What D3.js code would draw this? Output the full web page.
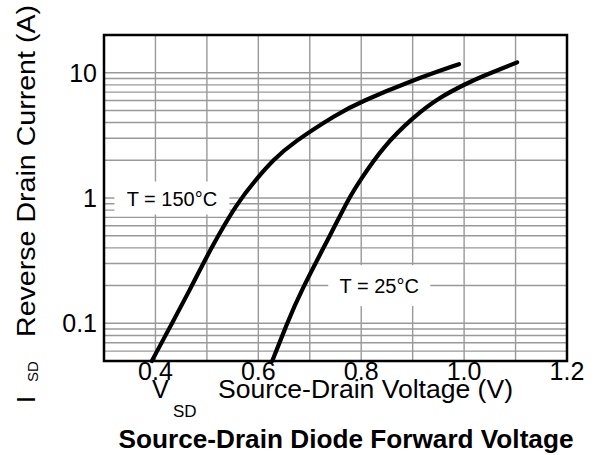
<!DOCTYPE html>
<html>
<head>
<meta charset="utf-8">
<script src="https://cdn.jsdelivr.net/npm/d3@7"></script>
<style>
  body { margin: 0; background: #fff; }
  text { font-family: Arial, "Liberation Sans", sans-serif; fill: #000; }
</style>
</head>
<body>
<div id="chart"></div>
<script>
// T = 150°C curve
var v150 = [0.393, 0.428, 0.467, 0.506, 0.558, 0.600, 0.629, 0.665, 0.755, 0.798, 0.901, 0.990];
var i150 = [0.05, 0.093, 0.185, 0.385, 0.908, 1.48, 2.01, 2.73, 4.74, 5.84, 8.75, 11.7];

// T = 25°C curve
var v25 = [0.627, 0.656, 0.681, 0.745, 0.774, 0.798, 0.842, 0.901, 0.953, 1.006, 1.031, 1.103];
var i25 = [0.05, 0.100, 0.175, 0.556, 0.964, 1.39, 2.55, 4.43, 6.40, 8.25, 9.2, 12.1];

var xTicks = [0.4, 0.6, 0.8, 1.0, 1.2];
var xTickLabels = ["0.4", "0.6", "0.8", "1.0", "1.2"];
var yTicks = [0.1, 1, 10];
var yTickLabels = ["0.1", "1", "10"];
var xGrid = [0.4, 0.5, 0.6, 0.7, 0.8, 0.9, 1.0, 1.1];
var yGrid = [0.06, 0.07, 0.08, 0.09, 0.1, 0.2, 0.3, 0.4, 0.5, 0.6, 0.7, 0.8, 0.9,
             1, 2, 3, 4, 5, 6, 7, 8, 9, 10];

var w = 595, h = 455;
var pLeft = 104, pRight = 567, pTop = 35, pBottom = 361;

var svg = d3.select("#chart").append("svg")
  .attr("width", w).attr("height", h);

var x = d3.scaleLinear().domain([0.3, 1.2]).range([pLeft, pRight]);
var y = d3.scaleLog().domain([0.05, 20]).range([pBottom, pTop]);

// grid
var grid = svg.append("g").attr("stroke", "#999").attr("stroke-width", 1.4);
grid.selectAll("line.v").data(xGrid).enter().append("line")
  .attr("x1", function(d) { return x(d); }).attr("x2", function(d) { return x(d); })
  .attr("y1", pTop).attr("y2", pBottom);
grid.selectAll("line.h").data(yGrid).enter().append("line")
  .attr("y1", function(d) { return y(d); }).attr("y2", function(d) { return y(d); })
  .attr("x1", pLeft).attr("x2", pRight);

// label boxes hide the grid behind the text
function label(txt, cx, cy, bw, bh, dy) {
  svg.append("rect")
    .attr("x", cx - bw / 2).attr("y", cy - bh / 2)
    .attr("width", bw).attr("height", bh)
    .attr("fill", "#fff");
  svg.append("text")
    .attr("x", cx).attr("y", cy + dy)
    .attr("text-anchor", "middle")
    .style("font-size", "20px")
    .text(txt);
}
label("T = 150°C", x(0.432), y(1), 115, 33, 8);
label("T = 25°C", x(0.835), y(0.2), 102, 41, 7);

// curves
var line = d3.line()
  .x(function(d) { return x(d[0]); })
  .y(function(d) { return y(d[1]); })
  .curve(d3.curveBasis);

[[v150, i150], [v25, i25]].forEach(function(s) {
  svg.append("path")
    .datum(d3.zip(s[0], s[1]))
    .attr("d", line)
    .attr("fill", "none")
    .attr("stroke", "#000")
    .attr("stroke-width", 4.2)
    .attr("stroke-linecap", "round");
});

// frame
svg.append("rect")
  .attr("x", pLeft).attr("y", pTop)
  .attr("width", pRight - pLeft).attr("height", pBottom - pTop)
  .attr("fill", "none").attr("stroke", "#000").attr("stroke-width", 2.5);

// tick labels
svg.selectAll("text.xt").data(xTicks).enter().append("text")
  .attr("x", function(d) { return x(d); })
  .attr("y", 380)
  .attr("text-anchor", "middle")
  .style("font-size", "25px")
  .text(function(d, i) { return xTickLabels[i]; });

svg.selectAll("text.yt").data(yTicks).enter().append("text")
  .attr("x", 97)
  .attr("y", function(d) { return y(d) + 9; })
  .attr("text-anchor", "end")
  .style("font-size", "25px")
  .text(function(d, i) { return yTickLabels[i]; });

// x title
svg.append("text").attr("x", 152).attr("y", 398).style("font-size", "25px").text("V");
svg.append("text").attr("x", 173).attr("y", 417).style("font-size", "17px").text("SD");
svg.append("text").attr("x", 218).attr("y", 398).style("font-size", "25px")
  .attr("textLength", 295).attr("lengthAdjust", "spacingAndGlyphs")
  .text("Source-Drain Voltage (V)");

// y title
var yt = svg.append("g").attr("transform", "translate(35,0) rotate(-90)");
yt.append("text").attr("x", -403).attr("y", 0).style("font-size", "25px").text("I");
yt.append("text").attr("x", -382).attr("y", 3).style("font-size", "15px").text("SD");
yt.append("text").attr("x", -337).attr("y", 0).style("font-size", "25px")
  .attr("textLength", 332).attr("lengthAdjust", "spacingAndGlyphs")
  .text("Reverse Drain Current (A)");

// chart title
svg.append("text")
  .attr("x", 346).attr("y", 448)
  .attr("text-anchor", "middle")
  .style("font-size", "26px").style("font-weight", "bold")
  .attr("textLength", 455).attr("lengthAdjust", "spacingAndGlyphs")
  .text("Source-Drain Diode Forward Voltage");
</script>
</body>
</html>
